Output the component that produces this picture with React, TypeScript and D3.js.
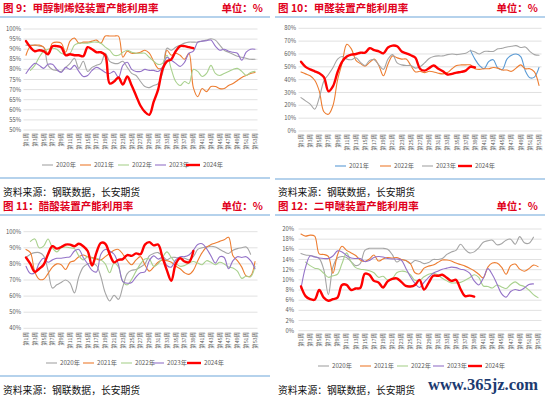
import * as d3 from 'd3'

// weeks 1..53, every other one labelled
const WEEKS = d3.range(1, 54)
const TICK_WEEKS = d3.range(1, 54, 2)
const weekLabel = (w: number) => `第${w}周`

// ---- 图 9 甲醇制烯烃 (%)
const mto2020 = [92,92,92,91.5,91,82,80,79.5,79,81,83,85.5,80.5,84,79,81,82,83,88,84,83,83,84,81,78,77,74,71.5,71,72,73,78,90.5,89.5,91,92,93,93.5,93.5,93.5,94,94.5,95.2,94.5,92,89.5,88.5,87.5,86.5,86,85.5,85,85]
const mto2021 = [87,91.5,92,92,91,88,93,93.5,93,88.5,94,95.5,93,93.5,93.5,94,94.5,93,96.5,96.5,96.5,96.5,86,89,88,88,88.5,89.5,88,84,80.5,81,89.5,87,88,87,85,88,71,66.5,70.5,69,71.5,71.5,70.5,70.5,72,73,74.5,76,77,78,78.5]
const mto2022 = [null,79.5,82,86,89,90,90.5,90,88,87.5,88,92,93,93,93,93.5,93.5,93,91,89.5,87,87,88.5,89.5,88.5,88,88,88,86,84,82.5,83,87,80,74,72,74,73,80,79,76.5,78,82,78,77,78,79,80,80.5,79,77,78.5,79]
const mto2023 = [78,81,83,82,80.5,82.5,82.5,80,78.5,81,80,82,79,76.5,77,79.5,81,80,78.5,78,79,76,82,83.5,80,79,79,80,79.5,79.5,79,81,86,84.5,83,81.5,83.5,88,89,93.5,94,94.2,94.5,91.5,89.5,90,89,88.5,88,84.5,88.5,90,90]
const mto2024 = [94,91,89,89.5,89,87.5,91.5,91.5,91,87,87.5,87,87,86.5,91,90,88.5,88.5,87,73,74,76,72.5,76.5,72,67,62,59,57.5,64,70,80,84,85,89,91.5,91.5,91,90.5]

// ---- 图 10 甲醛 (%)
const hcho2021Start = 38
const hcho2021 = [63,56,51,48.5,54,55.5,49,48,56,59,60,58,47,41.5,42,49.5]
const hcho2022 = [46,44.5,43,39.5,31,15,13,20,40,53,67.5,64,55,52.5,50.5,53.5,56,51,43,52,58.5,57,56,56,51,46,46.5,45.5,46.5,46,45,44.5,45.5,48.5,51,51.5,51.5,51.5,48.5,48,48.5,48.5,49.5,49,47.5,47.5,46.5,49,51.5,48.5,48.5,46,35.5]
const hcho2023 = [26,23.5,21,17,26,39,44,49.5,56,58,56,55.5,57,53.5,51,55,55.5,51.5,48,56,59.5,53,51.5,51,51,49,50,53,56.5,58,58.5,58.5,59.5,60,59.5,60,60.5,62.5,61.5,60,62,62,62,64,64.5,65.5,66,66.5,65,65.5,62,59.5,59]
const hcho2024 = [54,50,48,46.5,45,42,31,35,46,54,58,59.5,60,61,61,64.5,63,62,60.5,65,66.5,66,62,60.5,59,57,48.5,47,49,51,48.5,46.5,44,44.5,45.5,46,47,50,49.5]

// ---- 图 11 醋酸 (%)
const acetic2020 = [84,86,87,87,85,76,65,67,68.5,70,68,62,72,78,80,80.5,79,72,62,57,60.5,58,66,74,76,76.5,78,80,85,86.5,87,85,82.5,84,84,83.5,83.5,82.5,84.5,89,90,90.5,91,90.5,89,87.5,86.5,88.5,89.5,90,90.5,86,null]
const acetic2021 = [89,87,75,70.5,70.5,74,78,80,79.5,76.5,81,82,84.5,85.5,84.5,84,83,82.5,84.5,86.5,88.5,89,86,82,79.5,82.5,84.5,79.5,75.5,78,81,82.5,82,81,78.5,77,74.5,73.5,76,82,87,90.5,92,93,94,95,96.5,85,82,78,72.5,72.5,81.5]
const acetic2022Start = 2
const acetic2022 = [94,95.5,90,91,95.5,90,87.5,90,90.5,90,89.5,85,82.5,84.5,83.5,83.5,82.5,80,74.5,80.5,78,69,67,70.5,75.5,80,83,83,78.5,80,84,87.5,84,80.5,78.5,79,80.5,81.5,80.5,79.5,82,81,79.5,81,80,78,77.5,75.5,71,72.5,72,78.5]
const acetic2023 = [78.5,74,74.5,80.5,83.5,81,82.5,83.5,83.5,84,84.5,88,89,84,80,76,75,86,89,88,86,79.5,69,68,68.5,72,74.5,75,82,85,83,84,79,78,82.5,84.5,84.5,85.5,88.5,92,92.5,89.5,85,80.5,84.5,84,77,82,84.5,84,84.5,82,77]
const acetic2024 = [84,80,75,77,79.5,86,91,89.5,90.5,92,92,91,92.5,91,88,79,87,93,92.5,86,81,82.5,83,85.5,85,86.5,86,92,93.5,91.5,92,84,76,69.5,80,83.5,81.5,81,88]

// ---- 图 12 二甲醚 (%)
const dme2020 = [15.2,14.9,14.8,14.6,14.2,12,7.1,12.5,14.3,14.6,14.4,13.6,12.8,13.2,15.8,16.2,16.2,16.2,16.2,16,15,13.5,14,13.8,13.2,13.8,13.6,13.2,13.4,14,14,14.2,15,15.5,15.8,17,16,15.3,15.5,16.3,17.4,17.7,17.8,16.9,17.1,17.8,18,17,18.5,17.3,17.2,18.4,null]
const dme2021 = [19,18.6,18.8,18.6,15.1,15,14.6,11.3,14.9,16.6,15.8,15.3,14.8,13.9,13.6,14.1,14.9,13.7,14.1,14.4,14.3,14.4,14,13.8,13.2,11.4,11.2,12.3,12.7,12.9,13.4,13.9,13.9,13.7,13.3,13,12.7,12.3,11.8,11.1,10.4,12.5,13.3,13.3,12.5,11.1,12.8,13.1,12.1,11.7,12.2,12.9,12.6]
const dme2022Start = 2
const dme2022 = [13.5,12.8,12.3,12.1,11.3,10.5,10.8,11.1,13.2,15.3,13.5,12.4,12.1,12,11.8,11.4,10.5,10.7,10,10.2,11.4,11.7,11.6,11,9.9,9.9,10.6,11.1,11.3,11,10.3,9.8,9.4,9.4,9.5,9.9,10.4,11,10.5,8.8,8.7,8.4,9,8.6,8.3,9.1,9.6,9,8.7,8,7.1,6.5]
const dme2023 = [8.3,12.5,14.7,14.5,14.3,14.2,14.2,14.7,15.7,15.5,14.8,14.3,14.2,14.2,13.6,13.8,14.4,14.6,14.5,14.2,14.1,14.1,13.9,12.3,10.6,9.3,8.5,9.5,10.5,11.3,11.7,12.1,12.3,12.5,12.4,12.1,11.9,11.3,9.8,9,10.3,12.2,11,9.2,7.3,6.6,7.7,8.1,7.9,8.4,9.1,9.2,null]
const dme2024 = [8.7,6.8,6.2,6.1,8,6.5,5.9,6.2,6.5,9,9,8,8.3,8.4,11.2,11,9.8,9.5,8.5,9.7,10.2,10.3,9.6,8.8,8.7,9,10,8.1,9.4,10.8,10.8,11,10.4,9.8,10,8.2,6.8,6.9,6.7]

const GRAY = '#a5a5a5', ORANGE = '#ed7d31', GREEN = '#a9d18e', PURPLE = '#9473c8', RED = '#ff0000', BLUE = '#5b9bd5'
const TITLE_RED = '#e0001b'
const FONT = '"Noto Sans CJK SC", "Noto Sans", sans-serif'

type Series = { name: string; color: string; values: (number | null)[]; start?: number }

const panels = [
  {
    ox: 0, oy: 0, title: '图 9：甲醇制烯烃装置产能利用率',
    yDomain: [50, 100], yStep: 5, top: 29, bottom: 130, x0: 26, x1: 255, grid: [23.5, 257.5], yLabX: 21, xLabTop: 133,
    legY: 165, legX: [42, 80, 118, 155, 186], rule: 178,
    series: [
      { name: '2020年', color: GRAY, values: mto2020 },
      { name: '2021年', color: ORANGE, values: mto2021 },
      { name: '2022年', color: GREEN, values: mto2022 },
      { name: '2023年', color: PURPLE, values: mto2023 },
      { name: '2024年', color: RED, values: mto2024 },
    ] as Series[],
  },
  {
    ox: 275, oy: 0, title: '图 10：甲醛装置产能利用率',
    yDomain: [0, 80], yStep: 10, top: 28.3, bottom: 131, x0: 26, x1: 264, grid: [23.5, 266.5], yLabX: 21, xLabTop: 134,
    legY: 166, legX: [60, 105, 147, 183], rule: 179,
    series: [
      { name: '2021年', color: BLUE, values: hcho2021, start: hcho2021Start },
      { name: '2022年', color: ORANGE, values: hcho2022 },
      { name: '2023年', color: GRAY, values: hcho2023 },
      { name: '2024年', color: RED, values: hcho2024 },
    ] as Series[],
  },
  {
    ox: 0, oy: 198, title: '图 11：醋酸装置产能利用率',
    yDomain: [40, 100], yStep: 10, top: 33.7, bottom: 130.3, x0: 26, x1: 255, grid: [23.5, 257.5], yLabX: 21, xLabTop: 134,
    legY: 165, legX: [46, 83, 121, 153, 187], rule: 178,
    series: [
      { name: '2020年', color: GRAY, values: acetic2020 },
      { name: '2021年', color: ORANGE, values: acetic2021 },
      { name: '2022年', color: GREEN, values: acetic2022, start: acetic2022Start },
      { name: '2023年', color: PURPLE, values: acetic2023 },
      { name: '2024年', color: RED, values: acetic2024 },
    ] as Series[],
  },
  {
    ox: 275, oy: 198, title: '图 12：二甲醚装置产能利用率',
    yDomain: [0, 20], yStep: 2, top: 31, bottom: 132.7, x0: 26, x1: 263, grid: [23.5, 266.5], yLabX: 19, xLabTop: 135,
    legY: 168, legX: [43, 85, 122, 158, 193], rule: null,
    series: [
      { name: '2020年', color: GRAY, values: dme2020 },
      { name: '2021年', color: ORANGE, values: dme2021 },
      { name: '2022年', color: GREEN, values: dme2022, start: dme2022Start },
      { name: '2023年', color: PURPLE, values: dme2023 },
      { name: '2024年', color: RED, values: dme2024 },
    ] as Series[],
  },
]

function Panel({ p }: { p: (typeof panels)[number] }) {
  const x = d3.scaleLinear().domain([1, 53]).range([p.x0, p.x1])
  const y = d3.scaleLinear().domain(p.yDomain).range([p.bottom, p.top])
  const yTicks = d3.range(p.yDomain[0], p.yDomain[1] + 0.001, p.yStep)
  const line = d3.line<[number, number | null]>()
    .defined(d => d[1] != null)
    .x(d => x(d[0]))
    .y(d => y(d[1] as number))
    .curve(d3.curveCatmullRom.alpha(0.5))

  return (
    <g transform={`translate(${p.ox},${p.oy})`} fontFamily={FONT}>
      <text x={3} y={12} fontSize={10.5} fontWeight={700} fill={TITLE_RED}>{p.title}</text>
      <text x={263} y={12} fontSize={10.5} fontWeight={700} fill={TITLE_RED} textAnchor="end">单位：%</text>
      <line x1={0} x2={270} y1={17} y2={17} stroke="#9dc3e6" strokeWidth={1.5} />

      {yTicks.map(t => (
        <g key={t}>
          <line x1={p.grid[0]} x2={p.grid[1]} y1={y(t)} y2={y(t)} stroke="#d9d9d9" strokeWidth={0.8} />
          <text x={p.yLabX} y={y(t)} dy="0.35em" fontSize={5.8} fill="#595959" textAnchor="end">{t}%</text>
        </g>
      ))}

      {TICK_WEEKS.map(w => (
        <text key={w} transform={`translate(${x(w)},${p.xLabTop}) rotate(-90)`} dy="0.35em"
          fontSize={5.4} fill="#595959" textAnchor="end">{weekLabel(w)}</text>
      ))}

      {p.series.map(s => {
        const start = s.start ?? 1
        const pts = s.values.map((v, i) => [WEEKS[i + start - 1], v] as [number, number | null])
        const isRed = s.color === RED
        return <path key={s.name} d={line(pts) ?? ''} fill="none" stroke={s.color}
          strokeWidth={isRed ? 2.4 : 1.1} strokeLinejoin="round" strokeLinecap="round" />
      })}

      {p.series.map((s, i) => {
        const isRed = s.color === RED
        const lx = p.legX[i]
        const len = isRed ? 14 : 11
        return (
          <g key={s.name}>
            <line x1={lx} x2={lx + len} y1={p.legY} y2={p.legY} stroke={s.color} strokeWidth={isRed ? 2.4 : 1.1} />
            <text x={lx + len + 3} y={p.legY} dy="0.35em" fontSize={6.2} fill="#595959">{s.name}</text>
          </g>
        )
      })}

      {p.rule != null && <line x1={0} x2={270} y1={p.rule} y2={p.rule} stroke="#9dc3e6" strokeWidth={1.5} />}
      <text x={3} y={196} fontSize={9.8} fill="#111">资料来源：钢联数据，长安期货</text>
    </g>
  )
}

export default function App() {
  return (
    <div style={{ position: 'absolute', left: 0, top: 0 }}>
      <svg width={550} height={398} style={{ display: 'block', background: '#fff' }}>
        <rect width={550} height={398} fill="#fff" />
        {panels.map(p => <Panel key={p.title} p={p} />)}
        <text x={428} y={390} fontSize={16.5} fontWeight={700} fontFamily='"Liberation Serif", serif'
          fill="#1c3a70">www.365jz.com</text>
      </svg>
    </div>
  )
}
